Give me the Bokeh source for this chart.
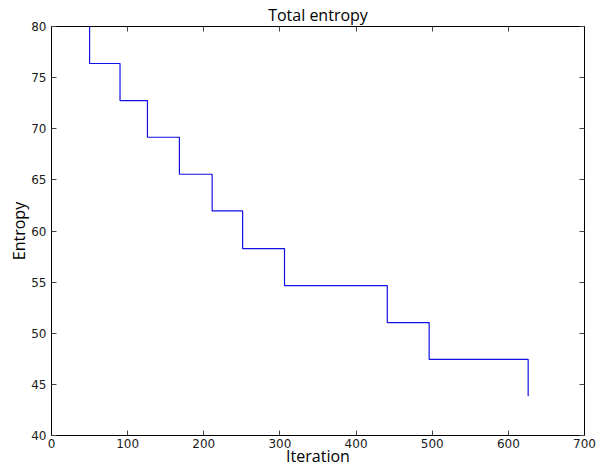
from bokeh.plotting import figure
from bokeh.models import Range1d, LinearAxis, FixedTicker
from bokeh.embed import file_html
from bokeh.resources import INLINE

# Data (iteration at which entropy steps, entropy after the step)
iteration = [50, 50, 90, 126, 168, 211, 251, 306, 441, 496, 626]
entropy = [80.0, 76.38, 72.76, 69.17, 65.55, 61.96, 58.28, 54.66, 51.04, 47.45, 43.83]

x_ticks = [0, 100, 200, 300, 400, 500, 600, 700]
y_ticks = [40, 45, 50, 55, 60, 65, 70, 75, 80]

TICK_FONT = "DejaVu Sans"
LABEL_FONT = "Open Sans"

p = figure(width=603, height=470,
           x_range=Range1d(0, 700), y_range=Range1d(40, 80),
           output_backend="svg", toolbar_location=None,
           title="Total entropy",
           min_border_left=51, min_border_right=19,
           min_border_top=26, min_border_bottom=35)

p.title.text_font = LABEL_FONT
p.title.text_font_size = "16px"
p.title.text_font_style = "normal"
p.title.align = "center"
p.title.text_color = "black"
p.title.standoff = 2

p.xgrid.visible = False
p.ygrid.visible = False
p.outline_line_color = "black"
p.outline_line_width = 1
p.background_fill_color = "white"
p.border_fill_color = "white"


def style_axis(ax, ticks, show_labels):
    ax.ticker = FixedTicker(ticks=ticks)
    ax.axis_line_color = "black"
    ax.axis_line_width = 1
    ax.major_tick_in = 5
    ax.major_tick_out = 0
    ax.major_tick_line_color = "#444444"
    ax.minor_tick_line_color = None
    ax.minor_tick_in = 0
    ax.minor_tick_out = 0
    ax.axis_label_standoff = 0
    if show_labels:
        ax.major_label_text_font = TICK_FONT
        ax.major_label_text_font_size = "12px"
        ax.major_label_text_color = "#1a1a1a"
        ax.major_label_standoff = 3
    else:
        ax.major_label_overrides = {t: "" for t in ticks}
        ax.major_label_text_font_size = "0px"
        ax.major_label_standoff = 0


xa = p.xaxis[0]
ya = p.yaxis[0]
style_axis(xa, x_ticks, True)
style_axis(ya, y_ticks, True)
ya.major_label_standoff = 5

xa.axis_label = "Iteration"
ya.axis_label = "Entropy"
for ax in (xa, ya):
    ax.axis_label_text_font = LABEL_FONT
    ax.axis_label_text_font_size = "16px"
    ax.axis_label_text_font_style = "normal"
    ax.axis_label_text_color = "black"
xa.axis_label_standoff = -6
ya.axis_label_standoff = -2

top_axis = LinearAxis()
style_axis(top_axis, x_ticks, False)
p.add_layout(top_axis, "above")

right_axis = LinearAxis()
style_axis(right_axis, y_ticks, False)
p.add_layout(right_axis, "right")

p.step(iteration, entropy, mode="after", line_color="#1010e8", line_width=1.2)

open("out.html", "w").write(file_html(p, INLINE))
